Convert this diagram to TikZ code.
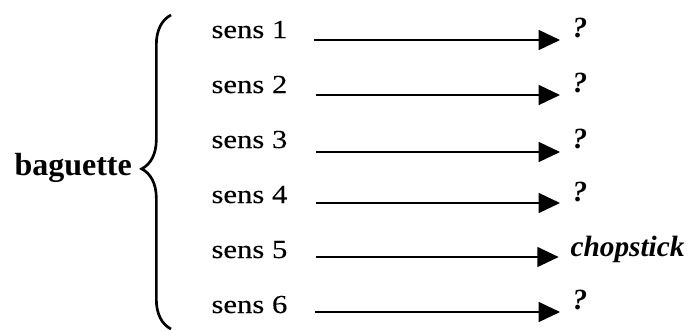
\documentclass[tikz,border=0pt]{standalone}
\usepackage{fontspec}
\setmainfont{Liberation Serif}[FakeStretch=1.18,FakeBold=0.2]
\newfontfamily\etroite{Liberation Serif}
\usetikzlibrary{arrows.meta,decorations.pathreplacing,positioning,calc}
\tikzset{every picture/.style={line width=0.75pt}}

\begin{document}
\begin{tikzpicture}[x=0.75pt,y=-0.75pt,
    sens/.style={anchor=base west,inner sep=0pt,font=\fontsize{19.5}{21}\selectfont},
    cible/.style={anchor=base west,inner sep=0pt,font=\etroite\fontsize{22}{24}\selectfont\bfseries\itshape},
    pfeil/.style={-{Triangle[length=16pt,width=15pt]},line width=1pt,shorten >=9pt}]
    \useasboundingbox (0,0) rectangle (696,330);
    % mot de depart et accolade
    \node[anchor=base west,inner sep=0pt,font=\etroite\fontsize{24}{26}\selectfont\bfseries] (mot) at (14,175) {baguette};
    \draw[line width=2pt,decorate,decoration={brace,amplitude=22pt,aspect=0.51}]
        (171,329) -- (171,15);
    % les six sens
    \node[sens] (s1) at (211,38) {sens 1};
    \node[sens] (s2) at (211,93) {sens 2};
    \node[sens] (s3) at (211,148) {sens 3};
    \node[sens] (s4) at (211,203) {sens 4};
    \node[sens] (s5) at (211,258) {sens 5};
    \node[sens] (s6) at (211,313) {sens 6};
    % les traductions
    \node[cible] (q1) at (572,37) {?};
    \node[cible] (q2) at (572,92) {?};
    \node[cible] (q3) at (572,148) {?};
    \node[cible] (q4) at (572,201) {?};
    \node[cible] (q5) at (570,256) {chopstick};
    \node[cible] (q6) at (572,309) {?};
    % les fleches
    \coordinate (a1) at (314,40);
    \coordinate (a2) at (316,95);
    \coordinate (a3) at (316,152);
    \coordinate (a4) at (316,203);
    \coordinate (a5) at (316,257);
    \coordinate (a6) at (315,312);
    \draw[pfeil] (a1) -- (a1 -| q1.west);
    \draw[pfeil] (a2) -- (a2 -| q2.west);
    \draw[pfeil] (a3) -- (a3 -| q3.west);
    \draw[pfeil] (a4) -- (a4 -| q4.west);
    \draw[pfeil,shorten >=8.5pt] (a5) -- (a5 -| q5.west);
    \draw[pfeil] (a6) -- (a6 -| q6.west);
\end{tikzpicture}
\end{document}
